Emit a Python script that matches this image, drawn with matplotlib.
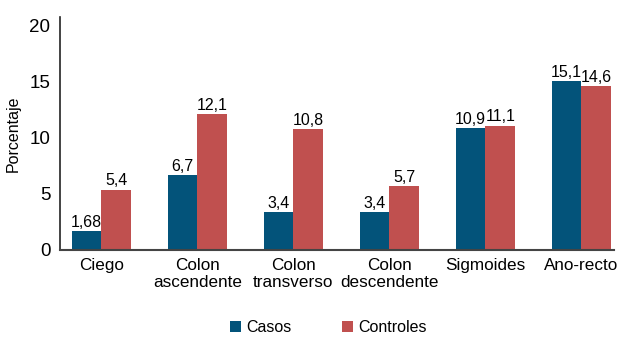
import numpy as np
import matplotlib.pyplot as plt

categorias = ["Ciego", "Colon\nascendente", "Colon\ntransverso",
              "Colon\ndescendente", "Sigmoides", "Ano-recto"]
casos = [1.68, 6.7, 3.4, 3.4, 10.9, 15.1]
controles = [5.4, 12.1, 10.8, 5.7, 11.1, 14.6]
etiquetas_casos = ["1,68", "6,7", "3,4", "3,4", "10,9", "15,1"]
etiquetas_controles = ["5,4", "12,1", "10,8", "5,7", "11,1", "14,6"]

plt.rcParams["font.family"] = ["Liberation Sans", "DejaVu Sans"]

color_casos = "#03537A"
color_controles = "#C0504F"

fig = plt.figure(figsize=(6.23, 3.38), dpi=100)
ax = fig.add_axes([60 / 623, 1 - 250 / 338, (614 - 60) / 623, (250 - 17) / 338])

x = np.arange(len(categorias))
w = 0.31
b1 = ax.bar(x - w / 2, casos, w, color=color_casos, label="Casos")
b2 = ax.bar(x + w / 2, controles, w, color=color_controles, label="Controles")

for barras, textos in ((b1, etiquetas_casos), (b2, etiquetas_controles)):
    for barra, t in zip(barras, textos):
        ax.text(barra.get_x() + barra.get_width() / 2, barra.get_height() + 0.12, t,
                ha="center", va="bottom", fontsize=11.5)

ax.set_xlim(-0.43, len(categorias) - 1 + 0.34)
ax.set_ylim(0, 20.8)
ax.set_yticks([0, 5, 10, 15, 20])
ax.set_xticks(x)
ax.set_xticklabels(categorias, linespacing=1.1)
ax.tick_params(axis="both", length=0)
ax.tick_params(axis="x", pad=6, labelsize=12.3)
ax.tick_params(axis="y", pad=7, labelsize=13.5)
ax.set_ylabel("Porcentaje", fontsize=11.5, labelpad=6)

ax.spines["top"].set_visible(False)
ax.spines["right"].set_visible(False)
ax.spines["left"].set_color("#222222")
ax.spines["bottom"].set_color("#444444")
ax.spines["left"].set_linewidth(1.2)
ax.spines["bottom"].set_linewidth(1.5)

fig.legend(loc="lower center", bbox_to_anchor=(0.527, -0.035), ncol=2, frameon=False,
           fontsize=11.5, handlelength=0.7, handleheight=0.7, handletextpad=0.3,
           columnspacing=3.2)

plt.savefig("out.png", dpi=100)
